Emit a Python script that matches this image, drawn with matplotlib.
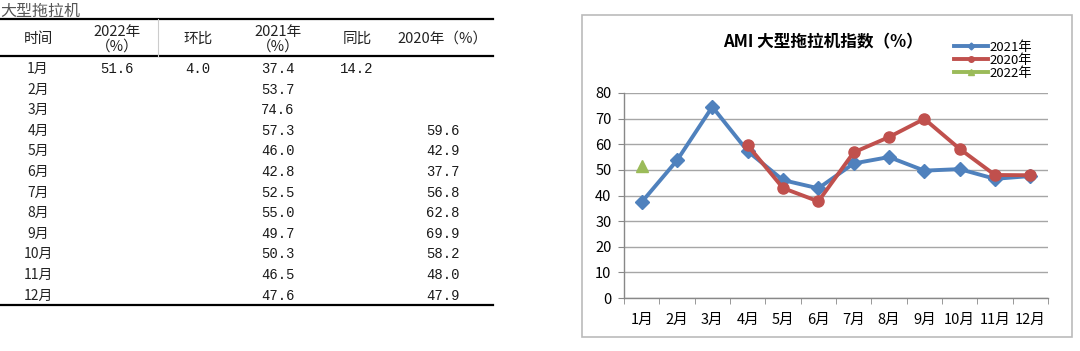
import numpy as np
import matplotlib.pyplot as plt
from matplotlib.lines import Line2D
from matplotlib.patches import Rectangle

plt.rcParams['font.family'] = ['Noto Sans CJK SC', 'DejaVu Sans']

# --- data ---
months = ['1月', '2月', '3月', '4月', '5月', '6月', '7月', '8月', '9月', '10月', '11月', '12月']
v2022 = [51.6] + [None] * 11
mom = ['4.0'] + [''] * 11
v2021 = [37.4, 53.7, 74.6, 57.3, 46.0, 42.8, 52.5, 55.0, 49.7, 50.3, 46.5, 47.6]
yoy = ['14.2'] + [''] * 11
v2020 = [None, None, None, 59.6, 42.9, 37.7, 56.8, 62.8, 69.9, 58.2, 48.0, 47.9]

headers = ['时间', '2022年\n（%）', '环比', '2021年\n（%）', '同比', '2020年（%）']

blue = '#4F81BD'
red = '#C0504D'
green = '#9BBB59'

fig = plt.figure(figsize=(10.8, 3.51), dpi=100)

# --- table on the left (pixel coords) ---
axt = fig.add_axes([0, 0, 0.5, 1])
axt.set_xlim(0, 540)
axt.set_ylim(351, 0)
axt.axis('off')

axt.text(0, 11, '大型拖拉机', fontsize=11.5, color='#555555', va='center', ha='left')
axt.add_line(Line2D([0, 493], [19, 19], color='black', lw=1.6))
axt.add_line(Line2D([0, 493], [56, 56], color='black', lw=1.6))
axt.add_line(Line2D([158, 158], [19, 56], color='#cccccc', lw=0.8))
axt.add_line(Line2D([0, 493], [305, 305], color='black', lw=1.6))

col_x = [38, 117, 198, 278, 357, 443]
for x, h in zip(col_x, headers):
    axt.text(x, 39, h, fontsize=10.5, ha='center', va='center', color='#222222',
             linespacing=1.05)

num_font = ['Liberation Mono', 'Noto Sans CJK SC']
row_y0 = 69
row_h = 20.6
for i, m in enumerate(months):
    y = row_y0 + i * row_h
    axt.text(col_x[0], y, m, fontsize=10, ha='center', va='center', color='#222222')
    cells = [
        f'{v2022[i]:.1f}' if v2022[i] is not None else '',
        mom[i],
        f'{v2021[i]:.1f}',
        yoy[i],
        f'{v2020[i]:.1f}' if v2020[i] is not None else '',
    ]
    for x, c in zip(col_x[1:], cells):
        if c:
            axt.text(x, y, c, fontsize=10, ha='center', va='center', color='#1a1a1a',
                     family=num_font)

# --- chart on the right ---
fig.patches.append(Rectangle((582 / 1080, 1 - 337 / 351), 490 / 1080, 322 / 351,
                             transform=fig.transFigure, fill=False,
                             edgecolor='#BBBBBB', lw=1.2))

ax = fig.add_axes([624 / 1080, 1 - 298 / 351, 424 / 1080, 205 / 351])
x = np.arange(len(months))
y21 = np.array(v2021, dtype=float)
y20 = np.array([np.nan if v is None else v for v in v2020])
y22 = np.array([np.nan if v is None else v for v in v2022])

ax.plot(x, y21, color=blue, lw=2.8, marker='D', ms=7, label='2021年', zorder=3)
ax.plot(x, y20, color=red, lw=2.8, marker='o', ms=8, label='2020年', zorder=4)
ax.plot(x, y22, color=green, lw=2.8, marker='^', ms=8, label='2022年', zorder=5,
        linestyle='none')

ax.set_xlim(-0.5, 11.5)
ax.set_ylim(0, 80)
ax.set_yticks(range(0, 81, 10))
ax.set_xticks(x)
ax.set_xticklabels(months, fontsize=10.5)
ax.set_xticks(np.arange(-0.5, 12, 1), minor=True)
ax.tick_params(axis='x', which='major', length=0, pad=11)
ax.tick_params(axis='x', which='minor', length=4, color='#888888')
ax.tick_params(axis='y', length=4, color='#888888', labelsize=10.5, pad=5)
ax.grid(axis='y', color='#A6A6A6', lw=1)
ax.set_axisbelow(True)
for s in ['top', 'right']:
    ax.spines[s].set_visible(False)
for s in ['left', 'bottom']:
    ax.spines[s].set_color('#888888')
    ax.spines[s].set_linewidth(1)

fig.text(823 / 1080, 1 - 42 / 351, 'AMI 大型拖拉机指数（%）', fontsize=12,
         fontweight='bold', ha='center', va='center')

handles = [
    Line2D([], [], color=blue, lw=2.8, marker='D', ms=3.5),
    Line2D([], [], color=red, lw=2.8, marker='o', ms=4),
    Line2D([], [], color=green, lw=2.8, marker='^', ms=4),
]
fig.legend(handles, ['2021年', '2020年', '2022年'], loc='upper left',
           bbox_to_anchor=(947 / 1080, 1 - 34 / 351), frameon=False,
           fontsize=9.5, handlelength=2.6, handletextpad=0.1, labelspacing=0.0,
           borderpad=0)

fig.savefig('out.png', dpi=100)
